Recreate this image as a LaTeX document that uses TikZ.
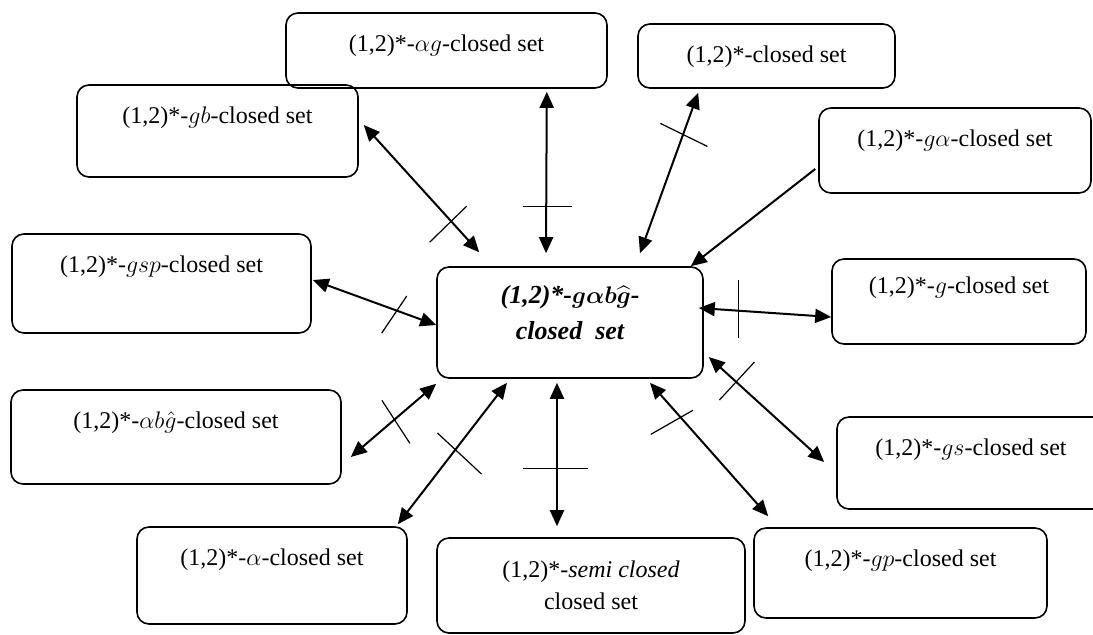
\documentclass[tikz,border=0pt]{standalone}
\usepackage{amsmath}
\usepackage{fontspec}
\setmainfont{Liberation Serif}
\usetikzlibrary{arrows.meta}
\usetikzlibrary{calc}

\begin{document}
\begin{tikzpicture}[x=0.5pt,y=-0.5pt,>={Triangle[length=8pt,width=7pt]},font=\fontsize{12}{14}\selectfont]
 \tikzset{
 	box/.style={rectangle,draw,rounded corners=6pt,line width=0.8pt,inner xsep=4pt,align=center},
 	set node/.style 2 args={box,inner ysep=10pt,text height=9pt,minimum width=#1,text depth=#2},
 	main node/.style={box,minimum width=133pt,minimum height=55.5pt,text depth=10pt,font=\fontsize{13}{15}\selectfont\bfseries\itshape\boldmath},
 	link/.style={<->,line width=1pt},
 	cut/.style={line width=0.6pt}
 }
 \useasboundingbox (0,0) rectangle (1093,634);

       \node[main node] (C) at (570,322.5) {(1,2)*-$g\alpha b\widehat{g}$-\\[3pt]closed\ \ set};

       \node[set node={160.5pt}{8.5pt}] (ag) at (446.5,50.5) {(1,2)*-$\alpha g$-closed set};
       \node[set node={128.5pt}{3pt}] (cl) at (766.5,56) {(1,2)*-closed set};
       \node[set node={136pt}{13.5pt}] (ga) at (955,150.5) {(1,2)*-$g\alpha$-closed set};
       \node[set node={140.5pt}{17pt}] (gb) at (217.5,131) {(1,2)*-$gb$-closed set};
       \node[set node={149.5pt}{20.5pt}] (gsp) at (161.5,283.5) {(1,2)*-$gsp$-closed set};
       \node[set node={127pt}{13.5pt},inner ysep=8pt,text depth=17.5pt] (g) at (959,301.5) {(1,2)*-$g$-closed set};
       \node[set node={165pt}{18pt}] (abg) at (176,437) {(1,2)*-$\alpha b\hat{g}$-closed set};
       \node[set node={134pt}{17pt}] (gs) at (971,463) {(1,2)*-$gs$-closed set};
       \node[set node={135pt}{19.5pt}] (al) at (272,575.5) {(1,2)*-$\alpha$-closed set};
       \node[set node={146.5pt}{16pt}] (gp) at (900.5,573) {(1,2)*-$gp$-closed set};
       \node[box,minimum width=154pt,minimum height=47.5pt] (semi) at (591,585.5) {(1,2)*-\textit{semi closed}\\[2pt]closed set};

     \draw[link] ($(gb.east)+(5,-6)$) -- ($(C.north west)+(43,-14)$) coordinate[pos=0.757] (x1);
     \draw[cut] ($(x1)+(-21.6,21)$) -- ($(x1)+(15.4,-15)$);

     \draw[link] ($(ag.south east)+(-61,3)$) -- ($(C.north)+(-24,-13)$) coordinate[pos=0.712] (x2);
     \draw[cut] ($(x2)+(-23,0)$) -- ($(x2)+(26,0)$);

     \draw[link] ($(cl.south west)+(61,4)$) -- ($(C.north)+(70,-13)$) coordinate[pos=0.26] (x3);
     \draw[cut] ($(x3)+(-22.7,-11.1)$) -- ($(x3)+(24.3,11.9)$);

     \draw[->,line width=1pt] ($(ga.west)+(-3,18.5)$) -- ($(C.north east)+(-13,0)$);

     \draw[link] ($(gsp.east)+(1,-3.5)$) -- ($(C.west)+(0,2.5)$) coordinate[pos=0.681] (x5);
     \draw[cut] ($(x5)+(-15.1,22.4)$) -- ($(x5)+(9.9,-14.6)$);

     \draw[link] ($(C.east)+(-5,-14.5)$) -- ($(g.west)+(0,15.5)$) coordinate[pos=0.299] (x6);
     \draw[cut] ($(x6)+(0,-30.7)$) -- ($(x6)+(0,27.3)$);

     \draw[link] ($(C.east)+(5,34.5)$) -- ($(gs.west)+(-12,-1)$) coordinate[pos=0.237] (x7);
     \draw[cut] ($(x7)+(-16.7,18.1)$) -- ($(x7)+(18.3,-19.9)$);

     \draw[link] ($(C.south)+(80,4)$) -- ($(gp.north west)+(15,-11)$) coordinate[pos=0.259] (x8);
     \draw[cut] ($(x8)+(-29.8,17)$) -- ($(x8)+(12.2,-7)$);

     \draw[link] ($(C.south)+(-13,4)$) -- ($(semi.north)+(-34,-11)$) coordinate[pos=0.6] (x9);
     \draw[cut] ($(x9)+(-34,0)$) -- ($(x9)+(31,0)$);

     \draw[link] ($(C.south)+(-63,4)$) -- ($(al.north east)+(-10,-2)$) coordinate[pos=0.473] (x10);
     \draw[cut] ($(x10)+(-17.9,-16.7)$) -- ($(x10)+(26.1,24.3)$);

     \draw[link] ($(abg.east)+(9,20)$) -- ($(C.south west)+(0,5)$) coordinate[pos=0.511] (x11);
     \draw[cut] ($(x11)+(-12.5,-19.2)$) -- ($(x11)+(15.5,23.8)$);
\end{tikzpicture}
\end{document}
